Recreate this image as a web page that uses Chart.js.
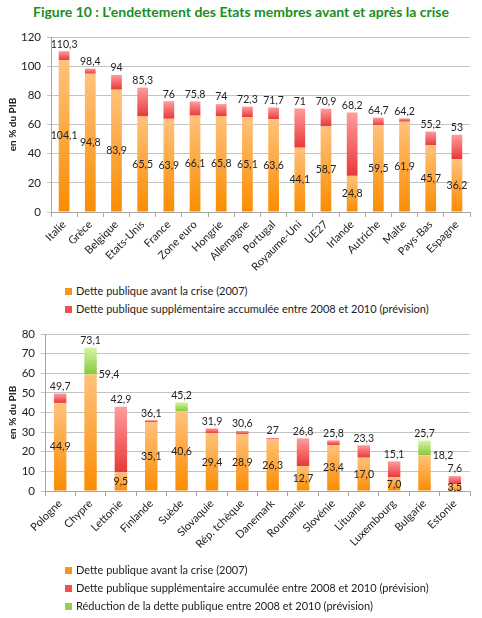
<!DOCTYPE html>
<html><head><meta charset="utf-8">
<script src="https://cdn.jsdelivr.net/npm/chart.js@4.4.0/dist/chart.umd.min.js"></script>
<style>
html,body{margin:0;padding:0;background:#fff;}
body{width:482px;height:618px;position:relative;overflow:hidden;font-family:Lato,sans-serif;}
#title{position:absolute;top:3px;left:0;width:482px;text-align:center;color:#1a8f1a;font-weight:bold;font-size:14px;white-space:nowrap;}
canvas{position:absolute;left:0;}
.legend{position:absolute;left:65px;font-size:11px;color:#222;}
.legend div{height:18px;line-height:18px;white-space:nowrap;}
.legend i{display:inline-block;width:7px;height:7px;margin-right:4px;vertical-align:0px;}
</style>
</head><body>
<div id="title">Figure 10 : L’endettement des Etats membres avant et après la crise</div>
<canvas id="c1" width="482" height="282" style="top:0px"></canvas>
<div class="legend" id="lg1" style="top:282px"></div>
<canvas id="c2" width="482" height="246" style="top:316px"></canvas>
<div class="legend" id="lg2" style="top:561px"></div>
<script>
// ---------- DATA ----------
const topCategories = ['Italie','Grèce','Belgique','Etats-Unis','France','Zone euro','Hongrie','Allemagne','Portugal','Royaume-Uni','UE27','Irlande','Autriche','Malte','Pays-Bas','Espagne'];
const topBefore = [104.1,94.8,83.9,65.5,63.9,66.1,65.8,65.1,63.6,44.1,58.7,24.8,59.5,61.9,45.7,36.2];
const topTotal  = [110.3,98.4,94,85.3,76,75.8,74,72.3,71.7,71,70.9,68.2,64.7,64.2,55.2,53];
const topYTicks = [0,20,40,60,80,100,120];

const bottomCategories = ['Pologne','Chypre','Lettonie','Finlande','Suède','Slovaquie','Rép. tchèque','Danemark','Roumanie','Slovénie','Lituanie','Luxembourg','Bulgarie','Estonie'];
const bottomBefore = [44.9,59.4,9.5,35.1,40.6,29.4,28.9,26.3,12.7,23.4,17.0,7.0,18.2,3.5];
const bottomTotal  = [49.7,73.1,42.9,36.1,45.2,31.9,30.6,27,26.8,25.8,23.3,15.1,25.7,7.6];
const bottomReductionCountries = ['Chypre','Suède','Bulgarie'];
const bottomYTicks = [0,10,20,30,40,50,60,70,80];

const seriesLabels = ['Dette publique avant la crise (2007)',
  'Dette publique supplémentaire accumulée entre 2008 et 2010 (prévision)',
  'Réduction de la dette publique entre 2008 et 2010 (prévision)'];
const yTitle = 'en % du PIB';

// ---------- STYLE ----------
const ORANGE = ['#ffc27c','#fb8c00'];
const RED    = ['#ff9c9c','#e8383a'];
const GREEN  = ['#d6f5a6','#86c93a'];
const SWATCH = ['#f7941d','#f05050','#92d050'];
const TXT = '#222';
Chart.defaults.font.family = 'Lato, sans-serif';
Chart.defaults.animation = false;

const r1 = v => Math.round(v*10)/10;
const fmt1 = v => v.toFixed(1).replace('.',',');
const fmtG = v => String(v).replace('.',',');

function grad(colors, startArr, endArr){
  return function(ctx){
    const chart = ctx.chart;
    if(!chart.chartArea || ctx.type!=='data') return colors[1];
    const ys = chart.scales.y, i = ctx.dataIndex;
    const a = ys.getPixelForValue(endArr[i]), b = ys.getPixelForValue(startArr[i]);
    if(!(b-a>0.5)) return colors[1];
    const g = chart.ctx.createLinearGradient(0,a,0,b);
    g.addColorStop(0,colors[0]); g.addColorStop(1,colors[1]);
    return g;
  };
}

function labelPlugin(before,total,rightLabels,gap){
  return {
    id:'vals',
    afterDatasetsDraw(chart){
      const ctx = chart.ctx, ys = chart.scales.y, meta = chart.getDatasetMeta(0);
      ctx.save();
      ctx.font = '10.5px Lato, sans-serif';
      ctx.fillStyle = TXT;
      meta.data.forEach((el,i)=>{
        const yb = ys.getPixelForValue(before[i]), y0 = ys.getPixelForValue(0);
        ctx.textBaseline='middle';
        if(rightLabels.includes(chart.data.labels[i])){
          ctx.textAlign='left';
          ctx.fillText(fmt1(before[i]), el.x+el.width/2+2, yb);
        } else {
          ctx.textAlign='center';
          ctx.fillText(fmt1(before[i]), el.x, (yb+y0)/2);
        }
        ctx.textAlign='center';
        ctx.fillText(fmtG(total[i]), el.x, ys.getPixelForValue(total[i])-gap);
      });
      ctx.restore();
    }
  };
}

function makeChart(id, cats, datasets, yTicks, yMax, yWidth, xHeight, padTop, plugin){
  return new Chart(document.getElementById(id), {
    type:'bar',
    data:{labels:cats, datasets},
    options:{
      responsive:false,
      layout:{padding:{top:padTop,right:12,left:0,bottom:0}},
      plugins:{legend:{display:false},tooltip:{enabled:false}},
      datasets:{bar:{categoryPercentage:1,barPercentage:0.41}},
      scales:{
        x:{stacked:true,
           grid:{display:true,drawOnChartArea:false,drawTicks:true,tickLength:5,color:'#a6a6a6',offset:true},
           border:{color:'#a6a6a6'},
           ticks:{autoSkip:false,maxRotation:45,minRotation:45,padding:1,color:TXT,font:{size:11}},
           afterFit:s=>{s.height=xHeight;}},
        y:{stacked:true,min:0,max:yMax,
           grid:{color:'#c3c3c3',tickLength:4,drawTicks:true},
           border:{color:'#a6a6a6'},
           ticks:{padding:6,color:TXT,font:{size:11.5}},
           afterBuildTicks:s=>{s.ticks=yTicks.map(v=>({value:v}));},
           title:{display:true,text:yTitle,color:TXT,font:{size:10,weight:'bold'},padding:{top:7,bottom:0}},
           afterFit:s=>{s.width=yWidth;}}
      }
    },
    plugins:[plugin]
  });
}

// Top chart
const topAdded = topTotal.map((t,i)=>r1(t-topBefore[i]));
makeChart('c1', topCategories, [
  {label:seriesLabels[0], data:topBefore, backgroundColor:grad(ORANGE, topBefore.map(()=>0), topBefore), borderWidth:0},
  {label:seriesLabels[1], data:topAdded, backgroundColor:grad(RED, topBefore, topTotal), borderWidth:0}
], topYTicks, 120, 51, 70, 37, labelPlugin(topBefore, topTotal, [], 7));

// Bottom chart
const isRed = bottomCategories.map(c=>!bottomReductionCountries.includes(c));
const bottomAdded = bottomTotal.map((t,i)=>isRed[i]?r1(t-bottomBefore[i]):0);
const bottomReduced = bottomTotal.map((t,i)=>isRed[i]?0:r1(t-bottomBefore[i]));
makeChart('c2', bottomCategories, [
  {label:seriesLabels[0], data:bottomBefore, backgroundColor:grad(ORANGE, bottomBefore.map(()=>0), bottomBefore), borderWidth:0},
  {label:seriesLabels[1], data:bottomAdded, backgroundColor:grad(RED, bottomBefore, bottomTotal), borderWidth:0},
  {label:seriesLabels[2], data:bottomReduced, backgroundColor:grad(GREEN, bottomBefore, bottomTotal), borderWidth:0}
], bottomYTicks, 80, 45, 71, 18, labelPlugin(bottomBefore, bottomTotal, ['Chypre','Bulgarie'], 7));

// HTML legends
function legend(id, n){
  const el = document.getElementById(id);
  for(let k=0;k<n;k++){
    const d = document.createElement('div');
    const sw = document.createElement('i'); sw.style.background = SWATCH[k];
    d.appendChild(sw); d.appendChild(document.createTextNode(seriesLabels[k]));
    el.appendChild(d);
  }
}
legend('lg1',2);
legend('lg2',3);
</script>
</body></html>
